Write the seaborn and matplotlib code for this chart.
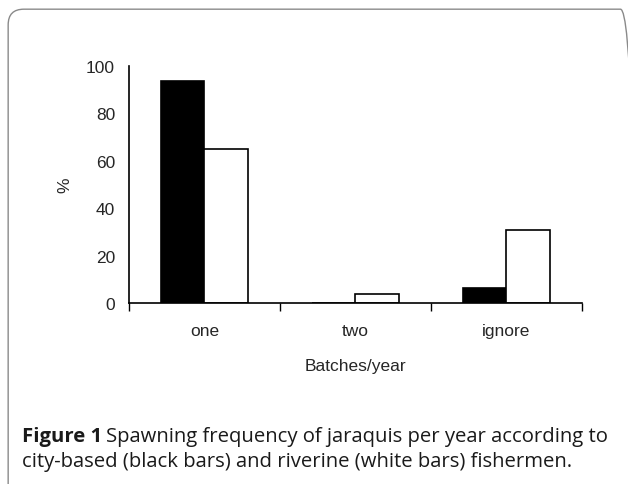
import matplotlib
matplotlib.use('Agg')
import matplotlib.pyplot as plt
from matplotlib.patches import FancyBboxPatch
from matplotlib.ticker import FixedLocator
import pandas as pd
import seaborn as sns

# data
batches = ['one', 'two', 'ignore']
city_based = [93.5, 0, 6.5]
riverine = [65, 4, 31]

df = pd.DataFrame({
    'batch': batches * 2,
    'pct': city_based + riverine,
    'group': ['city'] * 3 + ['riverine'] * 3,
})

sns.set_style('white')
plt.rcParams['font.family'] = ['Liberation Sans', 'DejaVu Sans']

fig = plt.figure(figsize=(6.28, 4.85), dpi=100)
ax = fig.add_axes([0.2054, 0.373, 0.7213, 0.489])

sns.barplot(data=df, x='batch', y='pct', hue='group', palette=['black', 'white'],
            edgecolor='black', linewidth=1.2, width=0.57, legend=False, ax=ax)

txt = '#262626'
ax.set_ylim(0, 100)
ax.set_xlim(-0.5, 2.5)
ax.set_yticks([0, 20, 40, 60, 80, 100])
ax.tick_params(axis='y', direction='out', length=7, width=1, labelsize=12.5, color='black', pad=3)
ax.tick_params(axis='x', which='major', length=0, labelsize=12.5, pad=14)
ax.xaxis.set_minor_locator(FixedLocator([-0.5, 0.5, 1.5, 2.5]))
ax.tick_params(axis='x', which='minor', direction='out', length=6, width=1, color='black', bottom=True)
ax.set_xlabel('Batches/year', fontsize=12.5, labelpad=15, color=txt)
ax.set_ylabel('%', fontsize=12.5, labelpad=10, color=txt)
for lbl in ax.get_xticklabels() + ax.get_yticklabels():
    lbl.set_color(txt)
sns.despine(ax=ax)
for s in ['left', 'bottom']:
    ax.spines[s].set_linewidth(1.2)
    ax.spines[s].set_color('black')

# rounded frame, open at the bottom and cut at the right
frame = FancyBboxPatch((0.013, -0.1), 1.0, 1.079, transform=fig.transFigure,
                       boxstyle='round,pad=0,rounding_size=0.025', facecolor='none',
                       edgecolor='#8a8a8a', linewidth=1.0, mutation_aspect=628 / 485)
fig.patches.append(frame)

# caption, bold "Figure 1" followed by regular text
cap_font = ['Open Sans', 'DejaVu Sans']
cap_size = 14.6
t1 = fig.text(0.035, 0.089, 'Figure 1', fontsize=cap_size, fontweight='bold',
              family=cap_font, va='baseline', color='#1a1a1a')
fig.canvas.draw()
bb = t1.get_window_extent()
x2 = (bb.x1 + 4) / fig.bbox.width
fig.text(x2, 0.089, 'Spawning frequency of jaraquis per year according to', fontsize=cap_size,
         family=cap_font, va='baseline', color='#1a1a1a')
fig.text(0.035, 0.038, 'city-based (black bars) and riverine (white bars) fishermen.',
         fontsize=cap_size, family=cap_font, va='baseline', color='#1a1a1a')

fig.savefig('out.png', dpi=100)
